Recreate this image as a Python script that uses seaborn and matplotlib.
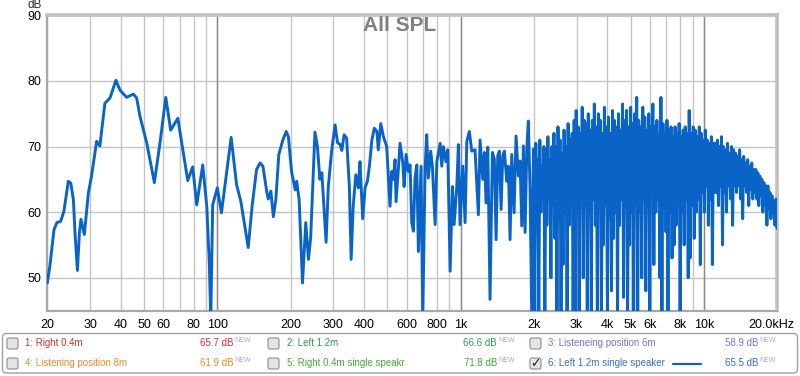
import numpy as np
import pandas as pd
import matplotlib
matplotlib.use('Agg')
import matplotlib.pyplot as plt
import seaborn as sns
from matplotlib.patches import FancyBboxPatch
from matplotlib.ticker import FixedLocator, NullFormatter
from matplotlib.transforms import ScaledTranslation

freq_lo = [20, 20.5, 21.3, 21.9, 22.7, 23.4, 24.4, 25.0, 25.6, 26.0,
           26.6, 27.1, 27.5, 28.4, 29.5, 30.4, 31.9, 32.9, 34.5, 36.2,
           38.3, 39.8, 42.4, 45.2, 46.6, 48.1, 51.3, 55.1, 58.1, 61.4,
           64.3, 68.8, 72.5, 75.6, 79.2, 82.3, 87.1, 90.5, 92.7, 94.0,
           95.7, 100, 104, 114, 120, 125, 134, 139, 145, 150,
           154, 160, 162, 166, 170, 174, 179, 186, 192, 196,
           202, 209, 212, 217, 224, 231, 237, 242, 252, 258,
           264, 269, 280, 286, 295, 305, 312, 320, 325, 332,
           340, 349, 355, 362, 371, 380, 386, 396, 405, 414,
           422, 432, 442, 453, 459, 470, 482, 497, 513, 521,
           529, 538, 543, 555, 564, 579, 586, 597, 610, 620,
           630, 640, 650, 661, 671, 688, 699, 715, 726, 737,
           754, 766, 786, 799, 824, 837, 850, 870, 886, 906,
           926, 941, 965, 980, 995, 1021, 1044, 1061, 1087, 1112,
           1147, 1184, 1203, 1234, 1253, 1273, 1294, 1322, 1352, 1377,
           1400, 1422, 1444, 1468, 1491, 1514, 1549, 1573, 1598, 1624,
           1660, 1691, 1729, 1757, 1785, 1813, 1842, 1872, 1900, 1931,
           1963, 1993]
spl_lo = [49.2, 51.8, 57.3, 58.4, 58.6, 60.1, 64.7, 64.4, 61.9, 56.8,
          51.1, 56.8, 58.9, 56.6, 62.9, 65.5, 70.8, 70.1, 76.6, 77.4,
          80.1, 78.6, 77.5, 78.0, 77.4, 74.6, 70.5, 64.5, 70.5, 77.5,
          72.5, 74.3, 69.0, 64.8, 66.9, 61.1, 67.2, 60.9, 52.3, 43.5,
          61.1, 63.7, 59.9, 71.4, 64.2, 61.6, 54.6, 60.9, 66.5, 67.5,
          67.0, 62.9, 62.0, 63.2, 59.3, 61.9, 68.8, 71.0, 72.3, 71.5,
          66.2, 63.4, 64.7, 61.9, 49.2, 58.4, 52.8, 56.1, 72.2, 70.0,
          65.0, 66.0, 55.4, 63.9, 69.3, 73.3, 70.6, 70.3, 69.4, 71.8,
          71.3, 63.9, 52.8, 60.9, 65.7, 63.7, 67.7, 59.0, 63.7, 64.7,
          67.0, 71.0, 72.8, 72.3, 69.5, 73.5, 71.5, 70.0, 60.9, 66.2,
          65.0, 68.0, 61.6, 66.5, 70.5, 67.5, 63.9, 68.8, 66.2, 67.2,
          58.4, 57.1, 65.2, 67.2, 54.0, 67.0, 43.5, 66.7, 71.8, 65.2,
          69.3, 67.0, 58.1, 67.7, 70.5, 67.0, 70.0, 67.7, 69.5, 51.0,
          63.9, 58.1, 63.9, 70.3, 58.1, 67.0, 58.4, 70.8, 72.3, 69.3,
          69.5, 59.6, 71.0, 65.0, 69.1, 61.4, 69.9, 46.7, 69.1, 68.1,
          55.8, 68.6, 69.3, 60.4, 68.6, 69.3, 64.7, 67.0, 55.8, 68.8,
          59.9, 71.6, 65.5, 67.8, 57.9, 70.1, 56.9, 69.6, 73.9, 63.4,
          43.5, 69.6]

# --- 2 kHz .. 20 kHz, dense part of the same measurement ---
spl_hi = [
    69, 44, 70.5, 62, 68, 44, 71, 60, 67, 64, 70, 44, 69.5, 58, 71.5, 62, 68, 50, 70, 61,
    72, 56, 70, 44, 73, 60, 71, 44, 69, 52, 72.5, 60, 70, 44, 73.5, 58, 71, 61, 72, 44,
    74, 44, 75.5, 60, 73, 44, 72, 62, 76, 50, 74, 61, 73.5, 44, 75, 60, 72.5, 44, 74, 62,
    76.5, 58, 73, 44, 75, 62, 74, 44, 72, 55, 76, 61, 73, 44, 74.5, 59, 72, 48, 75.5, 56,
    74, 60, 73, 44, 75, 58, 72.5, 62, 76.5, 47, 74, 61, 75.5, 44, 73, 55, 76, 60, 73.5, 44,
    75, 61, 77.5, 44, 74, 60, 73, 50, 76, 62, 74.5, 48, 72.5, 61, 75, 44, 73, 63, 76.5, 52,
    73, 60, 74, 62, 72, 50, 77.5, 44, 73.5, 61, 72, 57, 74, 44, 72.5, 60, 73, 53, 71.5, 55,
    73, 58, 72, 61, 73.5, 44, 71.5, 60, 72.5, 55, 73, 62, 72, 50, 75.5, 53, 72, 61, 73, 56,
    72.5, 60, 71.5, 62, 73, 52, 72, 63, 71, 60, 72.5, 64, 71, 58, 70.5, 62, 71.5, 52, 70.5, 63,
    70.5, 63, 71, 61, 70, 64, 71.5, 55, 70, 63, 69.5, 60, 70.5, 64, 69, 62, 70, 58, 69.5, 64,
    69, 63, 68.5, 64, 69.5, 62, 68, 59, 68.5, 64, 67.5, 63, 68, 61, 67, 63.5, 67.5, 62, 66.5, 63,
    66.5, 62, 66, 61, 65.5, 62.5, 65, 60, 64.5, 61, 64, 58, 64, 60.5, 63, 59, 62.5, 60, 61.5, 58, 62, 57.5]
freq_hi = np.geomspace(2000, 20000, len(spl_hi))  # measurement frequency grid

xtick_pos = [20, 30, 40, 50, 60, 80, 100, 200, 300, 400, 600, 800,
             1000, 2000, 3000, 4000, 5000, 6000, 8000, 10000, 20000]
xtick_lab = ['20', '30', '40', '50', '60', '80', '100', '200', '300', '400', '600', '800',
             '1k', '2k', '3k', '4k', '5k', '6k', '8k', '10k', '20.0kHz']
xgrid_minor = [70, 90, 500, 700, 900, 7000, 9000]
ytick_pos = [50, 60, 70, 80, 90]

# legend entries
leg_names = ['1: Right 0.4m', '2: Left 1.2m', '3: Listeneing position 6m',
             '4: Listening position 8m', '5: Right 0.4m single speakr', '6: Left 1.2m single speaker']
leg_values = ['65.7 dB', '66.6 dB', '58.9 dB', '61.9 dB', '71.8 dB', '65.5 dB']
leg_colors = ['#cc3333', '#2e9a5a', '#7474d8', '#ee8a2a', '#44aa33', '#3a6ec8']
leg_checked = [False, False, False, False, False, True]

curve_color = '#0a64c8'

sns.set_style('white')
plt.rcParams['font.family'] = ['Liberation Sans', 'DejaVu Sans']

df = pd.DataFrame({'freq': list(freq_lo) + list(freq_hi),
                   'spl': list(spl_lo) + list(spl_hi)})

fig = plt.figure(figsize=(8, 3.76), dpi=100)
ax = fig.add_axes([47.3 / 800, 1 - 310.5 / 376, (777 - 47.3) / 800, (310.5 - 15.4) / 376])

sns.lineplot(data=df, x='freq', y='spl', ax=ax, color=curve_color, lw=2.1,
             estimator=None, sort=False, zorder=3)

ax.set_xscale('log')
ax.set_xlim(20, 20000)
ax.set_ylim(45, 90)
ax.xaxis.set_major_locator(FixedLocator(xtick_pos))
ax.set_xticklabels(xtick_lab)
ax.xaxis.set_minor_locator(FixedLocator(xgrid_minor))
ax.xaxis.set_minor_formatter(NullFormatter())
ax.set_yticks(ytick_pos)
ax.set_yticklabels([str(v) for v in ytick_pos])
ax.tick_params(axis='both', which='both', length=0, labelsize=9, colors='black')
ax.tick_params(axis='x', pad=6)
ax.tick_params(axis='y', pad=4)
ax.set_xlabel('')
ax.set_ylabel('')

# last label sits a little left, like the original
last = ax.get_xticklabels()[-1]
last.set_transform(last.get_transform() + ScaledTranslation(-0.06, 0, fig.dpi_scale_trans))

ax.grid(True, which='both', axis='x', color='#c4c4c4', lw=1)
ax.grid(True, which='major', axis='y', color='#c4c4c4', lw=1)
for f in [100, 1000, 10000]:
    ax.axvline(f, color='#8a8a8a', lw=1, zorder=1)
ax.set_axisbelow(True)

for s in ['left', 'bottom']:
    ax.spines[s].set_color('#a8a8a8')
    ax.spines[s].set_linewidth(1.6)
for s in ['top', 'right']:
    ax.spines[s].set_color('#c0c0c0')
    ax.spines[s].set_linewidth(2.6)

# overlay in pixel coordinates for labels and legend panel
ov = fig.add_axes([0, 0, 1, 1])
ov.set_xlim(0, 800)
ov.set_ylim(376, 0)
ov.axis('off')

ov.text(42, 8.5, 'dB', ha='right', va='baseline', fontsize=8.5)
ov.text(400, 16, 'All SPL', ha='center', va='top', fontsize=15,
        fontweight='bold', color='#808080')

ov.add_patch(FancyBboxPatch((2.5, 333.5), 795, 39.5, boxstyle='round,pad=0,rounding_size=4',
                            fc='white', ec='#a0a0a0', lw=1))

col_box = [7, 268, 530]
col_text = [25, 287, 548]
col_val = [233, 497, 758]
row_y = [343.5, 363.5]
for i, name in enumerate(leg_names):
    r, c = i // 3, i % 3
    y = row_y[r]
    ov.add_patch(FancyBboxPatch((col_box[c], y - 5.5), 11, 11,
                                boxstyle='round,pad=0,rounding_size=2',
                                fc='#e4e4e4', ec='#8c8c8c', lw=0.8))
    if leg_checked[i]:
        ov.text(col_box[c] + 5.5, y + 0.5, '\u2713', ha='center', va='center',
                fontsize=9, family='DejaVu Sans', color='#202020')
    ov.text(col_text[c], y, name, ha='left', va='center', fontsize=7, color=leg_colors[i])
    ov.text(col_val[c], y, leg_values[i], ha='right', va='center', fontsize=7,
            color=leg_colors[i])
    ov.text(col_val[c] + 1, y - 3.5, 'NEW', ha='left', va='center', fontsize=5,
            color='#a8a8f0')
    if leg_checked[i]:
        ov.plot([673, 701], [y, y], color=curve_color, lw=1.6)

fig.savefig('out.png', dpi=100)
